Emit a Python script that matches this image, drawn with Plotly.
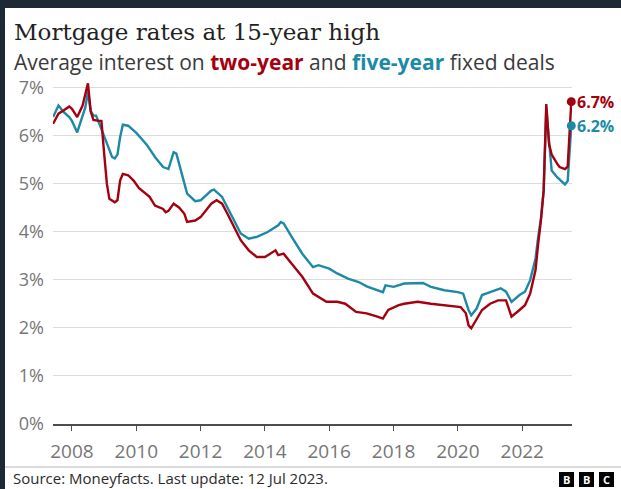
import plotly.graph_objects as go

# ---------------- data ----------------
two_year_dates = ["2007-06", "2007-08", "2007-10", "2007-12", "2008-01", "2008-03", "2008-05", "2008-07",
                  "2008-08", "2008-09", "2008-11", "2008-12", "2009-01", "2009-02", "2009-03", "2009-05",
                  "2009-06", "2009-07", "2009-08", "2009-10", "2009-12", "2010-02", "2010-06", "2010-08",
                  "2010-11", "2010-12", "2011-01", "2011-03", "2011-05", "2011-07", "2011-08", "2011-11",
                  "2012-01", "2012-05", "2012-07", "2012-09", "2012-11", "2013-02", "2013-04", "2013-07",
                  "2013-10", "2014-01", "2014-03", "2014-05", "2014-06", "2014-08", "2014-11", "2015-03",
                  "2015-07", "2015-09", "2015-12", "2016-04", "2016-07", "2016-11", "2017-03", "2017-07",
                  "2017-09", "2017-11", "2018-03", "2018-05", "2018-10", "2019-03", "2019-08", "2020-02",
                  "2020-04", "2020-05", "2020-06", "2020-07", "2020-10", "2021-01", "2021-04", "2021-07",
                  "2021-09", "2021-12", "2022-02", "2022-04", "2022-06", "2022-07", "2022-08", "2022-09",
                  "2022-10", "2022-11", "2022-12", "2023-02", "2023-03", "2023-05", "2023-06", "2023-07-12"]
two_year_rates = [6.24, 6.45, 6.52, 6.60, 6.55, 6.38, 6.62, 7.08,
                  6.50, 6.32, 6.30, 6.30, 5.62, 4.99, 4.68, 4.61,
                  4.65, 5.06, 5.20, 5.17, 5.06, 4.90, 4.72, 4.54,
                  4.47, 4.40, 4.43, 4.58, 4.50, 4.37, 4.20, 4.23,
                  4.30, 4.58, 4.65, 4.58, 4.37, 4.02, 3.82, 3.61,
                  3.47, 3.47, 3.54, 3.61, 3.51, 3.54, 3.33, 3.06,
                  2.71, 2.64, 2.54, 2.54, 2.50, 2.33, 2.30, 2.23,
                  2.19, 2.37, 2.47, 2.50, 2.54, 2.50, 2.47, 2.43,
                  2.30, 2.05, 1.99, 2.09, 2.37, 2.50, 2.57, 2.57,
                  2.23, 2.37, 2.47, 2.71, 3.20, 3.75, 4.23, 4.85,
                  6.65, 5.82, 5.60, 5.41, 5.34, 5.30, 5.35, 6.70]

five_year_dates = ["2007-06", "2007-08", "2007-10", "2007-12", "2008-01", "2008-03", "2008-04", "2008-06",
                   "2008-07", "2008-08", "2008-09", "2008-10", "2008-12", "2009-02", "2009-04", "2009-05",
                   "2009-06", "2009-07", "2009-08", "2009-10", "2010-01", "2010-03", "2010-05", "2010-08",
                   "2010-11", "2011-01", "2011-03", "2011-04", "2011-06", "2011-08", "2011-11", "2012-01",
                   "2012-05", "2012-06", "2012-09", "2013-01", "2013-04", "2013-07", "2013-10", "2014-02",
                   "2014-06", "2014-07", "2014-08", "2014-11", "2015-03", "2015-07", "2015-09", "2016-01",
                   "2016-04", "2016-08", "2016-12", "2017-03", "2017-07", "2017-09", "2017-10", "2018-01",
                   "2018-05", "2018-09", "2018-12", "2019-03", "2019-08", "2020-01", "2020-03", "2020-05",
                   "2020-06", "2020-08", "2020-10", "2021-01", "2021-05", "2021-07", "2021-09", "2021-12",
                   "2022-02", "2022-04", "2022-06", "2022-07", "2022-08", "2022-09", "2022-10", "2022-11",
                   "2022-12", "2023-02", "2023-04", "2023-05", "2023-06", "2023-07-12"]
five_year_rates = [6.38, 6.62, 6.48, 6.38, 6.30, 6.06, 6.24, 6.58,
                   6.90, 6.51, 6.41, 6.41, 6.13, 5.82, 5.55, 5.52,
                   5.60, 5.96, 6.22, 6.20, 6.05, 5.93, 5.80, 5.55,
                   5.34, 5.30, 5.65, 5.62, 5.20, 4.79, 4.63, 4.65,
                   4.85, 4.87, 4.72, 4.30, 3.96, 3.85, 3.89, 3.99,
                   4.13, 4.20, 4.17, 3.89, 3.54, 3.26, 3.30, 3.23,
                   3.13, 3.02, 2.95, 2.86, 2.78, 2.74, 2.88, 2.85,
                   2.92, 2.92, 2.93, 2.85, 2.78, 2.74, 2.71, 2.37,
                   2.26, 2.40, 2.68, 2.74, 2.82, 2.75, 2.54, 2.68,
                   2.75, 2.99, 3.44, 3.89, 4.27, 4.85, 6.55, 5.89,
                   5.27, 5.13, 5.03, 4.98, 5.05, 6.20]

year_ticks = ["2008", "2010", "2012", "2014", "2016", "2018", "2020", "2022"]
pct_ticks = [0, 1, 2, 3, 4, 5, 6, 7]
pct_labels = [f"{v}%" for v in pct_ticks]

RED = "#a5000f"
TEAL = "#1c8aa6"

# ---------------- geometry helpers ----------------
W, H = 621, 489
L, R, T, B = 53, 49, 80, 65
PW, PH = W - L - R, H - T - B


def px(x):
    return (x - L) / PW


def py(y):
    return (H - B - y) / PH


fig = go.Figure()
fig.add_trace(go.Scatter(x=five_year_dates, y=five_year_rates, mode="lines",
                         line=dict(color=TEAL, width=2.4), hoverinfo="skip", showlegend=False))
fig.add_trace(go.Scatter(x=two_year_dates, y=two_year_rates, mode="lines",
                         line=dict(color=RED, width=2.4), hoverinfo="skip", showlegend=False))
fig.add_trace(go.Scatter(x=[five_year_dates[-1]], y=[five_year_rates[-1]], mode="markers",
                         marker=dict(color=TEAL, size=9), cliponaxis=False, showlegend=False))
fig.add_trace(go.Scatter(x=[two_year_dates[-1]], y=[two_year_rates[-1]], mode="markers",
                         marker=dict(color=RED, size=9), cliponaxis=False, showlegend=False))

annotations = [
    dict(x=px(12), y=py(32), xref="paper", yref="paper", xanchor="left", yanchor="middle",
         text="Mortgage rates at 15-year high", showarrow=False,
         font=dict(family="DejaVu Serif", size=23, color="#222222")),
    dict(x=px(12), y=py(62), xref="paper", yref="paper", xanchor="left", yanchor="middle",
         text=("Average interest on <b><span style='color:%s'>two-year</span></b> and "
               "<b><span style='color:%s'>five-year</span></b> fixed deals") % (RED, TEAL),
         showarrow=False, font=dict(family="Open Sans", size=21, color="#3a3a3a")),
    dict(x=two_year_dates[-1], y=two_year_rates[-1], xref="x", yref="y", xanchor="left",
         yanchor="middle", xshift=4, text="<b>%.1f%%</b>" % two_year_rates[-1], showarrow=False,
         font=dict(family="Open Sans", size=16, color=RED)),
    dict(x=five_year_dates[-1], y=five_year_rates[-1], xref="x", yref="y", xanchor="left",
         yanchor="middle", xshift=4, text="<b>%.1f%%</b>" % five_year_rates[-1], showarrow=False,
         font=dict(family="Open Sans", size=16, color=TEAL)),
    dict(x=px(11), y=py(478), xref="paper", yref="paper", xanchor="left", yanchor="middle",
         text="Source: Moneyfacts. Last update: 12 Jul 2023.", showarrow=False,
         font=dict(family="Open Sans", size=15, color="#2b2b2b")),
]

shapes = [
    # dark frame strips
    dict(type="rect", xref="paper", yref="paper", x0=px(0), x1=px(W), y0=py(0), y1=py(8),
         fillcolor="#1d2a36", line=dict(width=0), layer="above"),
    dict(type="rect", xref="paper", yref="paper", x0=px(0), x1=px(5), y0=py(0), y1=py(H),
         fillcolor="#1d2a36", line=dict(width=0), layer="above"),
    # footer separator
    dict(type="line", xref="paper", yref="paper", x0=px(5), x1=px(W), y0=py(467), y1=py(467),
         line=dict(color="#b5b5b5", width=1)),
]

# BBC blocks
for i, letter in enumerate(["B", "B", "C"]):
    x0 = 559 + i * 20
    shapes.append(dict(type="rect", xref="paper", yref="paper", x0=px(x0), x1=px(x0 + 15),
                       y0=py(472), y1=py(487), fillcolor="#000000", line=dict(width=0)))
    annotations.append(dict(x=px(x0 + 7.5), y=py(479.5), xref="paper", yref="paper",
                            xanchor="center", yanchor="middle", text="<b>%s</b>" % letter,
                            showarrow=False, font=dict(family="Open Sans", size=11, color="#ffffff")))

fig.update_layout(
    width=W, height=H,
    margin=dict(l=L, r=R, t=T, b=B, pad=0),
    paper_bgcolor="#ffffff", plot_bgcolor="#ffffff",
    showlegend=False,
    annotations=annotations,
    shapes=shapes,
    xaxis=dict(type="date", range=["2007-05-31", "2023-07-20"],
               tickvals=[f"{y}-01-01" for y in year_ticks], ticktext=year_ticks,
               showgrid=False, zeroline=False,
               showline=True, linecolor="#4d4d4d", linewidth=1.5,
               ticks="outside", ticklen=5, tickwidth=1.2, tickcolor="#4d4d4d",
               ticklabelstandoff=4,
               tickfont=dict(family="Open Sans", size=19, color="#767676")),
    yaxis=dict(range=[0, 7.15], tickvals=pct_ticks, ticktext=pct_labels,
               showgrid=True, gridcolor="#dcdcdc", gridwidth=1, zeroline=False,
               ticks="", ticklabelstandoff=8,
               tickfont=dict(family="Open Sans", size=18, color="#767676")),
)

fig.write_html("out.html", config={"displayModeBar": False},
               post_script="document.body.style.margin='0px';document.body.style.overflow='hidden';")
